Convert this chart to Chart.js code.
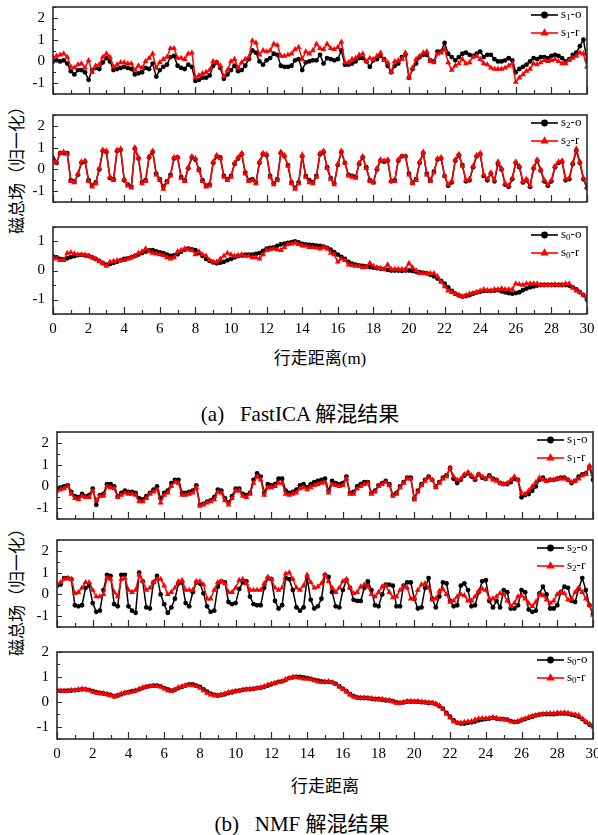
<!DOCTYPE html>
<html>
<head>
<meta charset="utf-8">
<script src="https://cdn.jsdelivr.net/npm/chart.js@4.4.1/dist/chart.umd.min.js"></script>
<style>
  body { margin: 0; background: #fff; width: 598px; height: 835px; position: relative; overflow: hidden; }
  .txt { position: absolute; white-space: pre; color: #000; transform: translate(-50%, -50%);
         font-family: "Liberation Serif", "Noto Sans CJK SC", serif; }
</style>
</head>
<body>

<div class="txt" style="left:15px;top:166px;font-size:17px;transform:translate(-50%,-50%) rotate(-90deg);font-family:'Noto Sans CJK SC'">磁总场（归一化）</div>
<div class="txt" style="left:320px;top:356px;font-size:17px;">行走距离(m)</div>
<div class="txt" style="left:300px;top:412px;font-size:21px;">(a)   FastICA 解混结果</div>

<div class="txt" style="left:15px;top:588px;font-size:17px;transform:translate(-50%,-50%) rotate(-90deg);font-family:'Noto Sans CJK SC'">磁总场（归一化）</div>
<div class="txt" style="left:325px;top:784px;font-size:17px;">行走距离</div>
<div class="txt" style="left:302px;top:822px;font-size:21px;">(b)   NMF 解混结果</div>

<script>
document.addEventListener("DOMContentLoaded", () => {

    // walking distance (m), one sample every 0.2 m
    const distance = [
        0,0.2,0.4,0.6,0.8,1,1.2,1.4,1.6,1.8,
        2,2.2,2.4,2.6,2.8,3,3.2,3.4,3.6,3.8,
        4,4.2,4.4,4.6,4.8,5,5.2,5.4,5.6,5.8,
        6,6.2,6.4,6.6,6.8,7,7.2,7.4,7.6,7.8,
        8,8.2,8.4,8.6,8.8,9,9.2,9.4,9.6,9.8,
        10,10.2,10.4,10.6,10.8,11,11.2,11.4,11.6,11.8,
        12,12.2,12.4,12.6,12.8,13,13.2,13.4,13.6,13.8,
        14,14.2,14.4,14.6,14.8,15,15.2,15.4,15.6,15.8,
        16,16.2,16.4,16.6,16.8,17,17.2,17.4,17.6,17.8,
        18,18.2,18.4,18.6,18.8,19,19.2,19.4,19.6,19.8,
        20,20.2,20.4,20.6,20.8,21,21.2,21.4,21.6,21.8,
        22,22.2,22.4,22.6,22.8,23,23.2,23.4,23.6,23.8,
        24,24.2,24.4,24.6,24.8,25,25.2,25.4,25.6,25.8,
        26,26.2,26.4,26.6,26.8,27,27.2,27.4,27.6,27.8,
        28,28.2,28.4,28.6,28.8,29,29.2,29.4,29.6,29.8,
        30
    ];

    // (a) FastICA
    const a1Black = [
        0.0,0.05,0.0,0.05,-0.1,-0.45,-0.6,-0.4,-0.4,-0.5,
        -0.85,-0.4,-0.3,-0.35,-0.05,0.15,0.0,-0.4,-0.35,-0.3,
        -0.25,-0.3,-0.35,-0.6,-0.55,-0.5,-0.3,-0.35,-0.1,-0.7,
        -0.4,-0.25,-0.15,0.2,0.25,-0.2,-0.3,-0.35,-0.15,-0.25,
        -0.9,-0.85,-0.75,-0.75,-0.65,-0.2,-0.05,-0.3,-0.8,-0.6,
        -0.4,-0.2,-0.45,-0.4,-0.2,0.1,0.5,0.4,0.0,-0.15,
        0.05,0.15,0.35,0.3,-0.2,-0.25,-0.25,-0.2,0.05,0.1,
        -0.4,-0.05,0.0,0.05,0.05,0.3,-0.1,0.15,0.1,0.05,
        0.1,0.5,-0.15,-0.15,-0.1,0.0,0.15,0.15,0.0,-0.25,
        0.05,0.1,0.25,0.1,-0.2,-0.5,-0.2,-0.1,0.2,0.3,
        -0.75,-0.35,-0.1,0.2,0.3,0.3,0.05,0.0,0.45,0.45,
        0.85,0.35,0.2,0.05,0.2,0.35,0.4,0.3,0.25,0.35,
        0.45,0.2,0.3,0.3,0.1,0.0,0.0,0.05,0.15,0.05,
        -0.5,-0.35,-0.25,-0.15,0.0,0.15,0.1,0.2,0.2,0.15,
        0.25,0.3,0.25,0.15,0.0,0.1,0.3,0.4,0.7,1.0,
        0.05
    ];
    const a1Red = [
        0.2,0.25,0.3,0.35,0.2,-0.25,-0.3,-0.15,-0.1,-0.3,
        0.05,-0.5,-0.2,-0.15,0.2,0.35,0.2,-0.25,-0.15,-0.05,
        -0.05,-0.1,-0.1,-0.4,-0.2,-0.3,0.0,0.15,0.35,-0.3,
        -0.05,0.1,0.2,0.6,0.6,0.15,0.15,0.1,0.35,0.4,
        -0.75,-0.65,-0.55,-0.5,-0.4,0.0,-0.05,-0.2,-0.7,-0.4,
        0.0,0.1,-0.3,-0.05,0.1,0.2,0.95,0.85,0.3,0.5,
        0.45,0.5,0.8,0.75,0.25,0.25,0.3,0.35,0.55,0.65,
        0.1,0.45,0.35,0.5,0.8,0.6,0.55,0.8,0.6,0.55,
        0.65,0.9,-0.05,-0.05,0.1,0.15,0.3,0.35,0.0,0.15,
        0.1,0.25,0.4,0.05,-0.05,-0.5,0.0,0.05,0.1,0.4,
        -0.75,-0.3,0.1,0.25,0.4,0.45,0.0,-0.05,0.35,0.4,
        0.55,-0.05,-0.4,-0.2,-0.1,0.1,-0.1,-0.05,0.2,0.25,
        0.1,-0.1,-0.15,-0.3,-0.35,-0.35,-0.35,-0.3,-0.2,-0.1,
        -0.95,-0.75,-0.6,-0.45,-0.35,-0.1,-0.15,-0.05,0.05,0.0,
        0.05,0.1,0.0,-0.1,-0.1,0.05,0.15,0.25,0.4,0.35,
        -0.25
    ];
    const a2Black = [
        0.5,0.3,0.75,0.75,0.75,-0.5,-0.55,-0.25,0.3,0.35,
        -0.5,-0.75,-0.6,0.0,0.85,0.8,-0.4,-0.45,0.85,0.9,
        -0.5,-0.7,-0.8,0.95,0.5,-0.6,-0.5,0.55,0.8,-0.2,
        -0.45,-0.8,-0.55,-0.25,0.5,0.55,-0.35,-0.5,0.05,0.55,
        0.45,0.0,-0.5,-0.75,-0.7,0.3,0.6,0.55,-0.3,-0.45,
        -0.3,0.25,0.5,0.7,-0.15,-0.5,-0.45,-0.6,0.3,0.7,
        0.65,-0.3,-0.65,-0.45,0.75,0.6,0.2,-0.6,-0.85,-0.6,
        0.6,-0.3,-0.5,-0.6,-0.3,0.7,0.8,0.1,-0.4,-0.65,
        0.2,0.8,0.3,-0.25,-0.3,-0.35,0.25,0.55,0.1,-0.5,
        -0.6,0.0,0.4,0.35,0.4,-0.55,-0.5,0.4,0.6,0.6,
        -0.2,-0.6,-0.45,0.3,0.75,-0.2,-0.5,-0.1,0.45,0.5,
        -0.3,-0.75,-0.6,0.4,0.65,0.2,-0.55,-0.5,0.1,0.6,
        0.7,-0.3,-0.5,-0.2,-0.55,0.25,0.0,-0.7,-0.8,-0.45,
        0.3,0.1,-0.6,-0.5,-0.8,0.05,0.4,-0.05,-0.55,-0.75,
        -0.55,0.1,0.3,0.35,-0.5,-0.45,0.25,0.85,0.3,-0.45,
        -0.85
    ];
    const a2Red = [
        0.45,0.3,0.75,0.8,0.7,-0.55,-0.6,-0.2,0.35,0.4,
        -0.55,-0.8,-0.65,0.05,0.9,0.85,-0.35,-0.5,0.9,0.95,
        -0.45,-0.75,-0.85,1.0,0.55,-0.65,-0.55,0.6,0.85,-0.25,
        -0.5,-0.9,-0.6,-0.3,0.55,0.55,-0.4,-0.55,0.1,0.6,
        0.5,-0.05,-0.55,-0.8,-0.75,0.35,0.65,0.5,-0.35,-0.5,
        -0.35,0.3,0.55,0.75,-0.2,-0.55,-0.5,-0.65,0.35,0.75,
        0.7,-0.35,-0.7,-0.5,0.8,0.65,0.15,-0.65,-0.9,-0.65,
        0.65,-0.35,-0.6,-0.65,-0.35,0.75,0.85,0.05,-0.45,-0.7,
        0.25,0.85,0.3,-0.3,-0.35,-0.4,0.3,0.6,0.05,-0.55,
        -0.6,0.05,0.45,0.4,0.45,-0.55,-0.55,0.45,0.6,0.6,
        -0.25,-0.65,-0.5,0.35,0.8,-0.25,-0.55,-0.15,0.5,0.55,
        -0.3,-0.7,-0.55,0.45,0.7,0.15,-0.5,-0.45,0.15,0.65,
        0.75,-0.25,-0.45,-0.15,-0.5,0.35,0.05,-0.65,-0.75,-0.4,
        0.35,0.15,-0.55,-0.45,-0.75,0.1,0.45,0.0,-0.5,-0.7,
        -0.5,0.15,0.35,0.4,-0.45,-0.4,0.3,0.95,0.35,-0.4,
        -0.8
    ];
    const a3Black = [
        0.48,0.45,0.4,0.38,0.42,0.46,0.5,0.53,0.54,0.52,
        0.5,0.45,0.4,0.33,0.25,0.2,0.22,0.26,0.3,0.35,
        0.4,0.42,0.45,0.5,0.55,0.6,0.65,0.69,0.7,0.66,
        0.62,0.6,0.55,0.5,0.52,0.56,0.65,0.72,0.75,0.73,
        0.7,0.6,0.5,0.4,0.33,0.28,0.25,0.27,0.3,0.35,
        0.4,0.45,0.5,0.52,0.55,0.55,0.55,0.57,0.6,0.68,
        0.75,0.78,0.8,0.85,0.9,0.93,0.95,0.98,1.0,0.97,
        0.92,0.9,0.88,0.87,0.86,0.85,0.82,0.78,0.72,0.63,
        0.55,0.47,0.4,0.3,0.24,0.2,0.18,0.16,0.14,0.12,
        0.1,0.08,0.06,0.05,0.02,0.0,0.0,0.0,-0.01,0.0,
        0.0,-0.02,-0.04,-0.06,-0.08,-0.1,-0.15,-0.2,-0.28,-0.36,
        -0.45,-0.58,-0.7,-0.8,-0.86,-0.9,-0.88,-0.85,-0.8,-0.76,
        -0.73,-0.7,-0.7,-0.7,-0.69,-0.68,-0.72,-0.75,-0.78,-0.8,
        -0.78,-0.75,-0.68,-0.62,-0.58,-0.55,-0.52,-0.5,-0.5,-0.5,
        -0.5,-0.5,-0.5,-0.5,-0.5,-0.52,-0.58,-0.65,-0.75,-0.85,
        -1.0
    ];
    const a3Red = [
        0.45,0.4,0.35,0.35,0.6,0.62,0.58,0.55,0.55,0.54,
        0.5,0.45,0.4,0.32,0.25,0.15,0.3,0.32,0.35,0.34,
        0.35,0.4,0.45,0.5,0.6,0.65,0.75,0.65,0.6,0.58,
        0.55,0.52,0.45,0.4,0.45,0.65,0.7,0.75,0.72,0.7,
        0.55,0.65,0.55,0.5,0.35,0.3,0.3,0.4,0.5,0.6,
        0.55,0.5,0.52,0.55,0.5,0.5,0.45,0.45,0.4,0.55,
        0.7,0.72,0.75,0.72,0.7,0.8,0.9,0.92,0.95,0.9,
        0.85,0.85,0.8,0.8,0.78,0.75,0.8,0.75,0.6,0.55,
        0.3,0.4,0.35,0.2,0.18,0.15,0.15,0.1,0.12,0.25,
        0.15,0.1,0.08,0.05,0.2,0.05,0.05,0.05,0.05,0.05,
        0.25,0.1,0.0,-0.1,-0.1,-0.1,-0.1,-0.1,-0.2,-0.4,
        -0.55,-0.7,-0.75,-0.8,-0.85,-0.9,-0.85,-0.8,-0.78,-0.75,
        -0.7,-0.65,-0.68,-0.7,-0.65,-0.65,-0.62,-0.65,-0.65,-0.65,
        -0.45,-0.48,-0.5,-0.45,-0.45,-0.45,-0.45,-0.5,-0.5,-0.5,
        -0.5,-0.48,-0.5,-0.5,-0.45,-0.45,-0.6,-0.7,-0.75,-0.85,
        -0.95
    ];

    // (b) NMF
    const b1Black = [
        -0.1,-0.05,0.0,0.05,-0.25,-0.45,-0.5,-0.35,-0.45,-0.4,
        -0.1,-0.85,-0.4,-0.35,0.1,0.1,0.0,-0.45,-0.3,-0.2,
        -0.25,-0.25,-0.3,-0.55,-0.6,-0.45,-0.3,-0.15,0.0,-0.55,
        -0.3,-0.2,0.15,0.3,0.3,-0.3,-0.3,-0.25,-0.2,0.05,
        -0.85,-0.8,-0.7,-0.65,-0.5,-0.15,-0.2,-0.55,-0.75,-0.45,
        -0.1,-0.1,-0.35,-0.4,-0.3,0.3,0.6,0.45,-0.3,0.1,
        0.05,0.1,0.35,0.35,-0.2,-0.3,-0.25,-0.15,0.05,0.1,
        -0.05,0.1,0.2,0.25,0.3,0.35,-0.2,0.25,0.15,0.1,
        0.15,0.45,-0.3,-0.25,0.0,0.1,0.2,0.2,-0.3,-0.2,
        0.05,0.15,0.25,0.1,-0.4,-0.3,0.0,0.2,0.4,0.4,
        -0.55,-0.2,0.1,0.3,0.45,0.3,0.0,0.2,0.4,0.5,
        0.85,0.35,0.15,0.3,0.5,0.6,0.45,0.3,0.55,0.4,
        0.35,0.5,0.35,0.3,0.15,0.1,0.1,0.2,0.35,0.3,
        -0.5,-0.4,-0.35,-0.2,0.0,0.3,0.4,0.25,0.3,0.3,
        0.35,0.4,0.4,0.3,0.15,0.25,0.45,0.55,0.6,0.9,
        0.3
    ];
    const b1Red = [
        -0.2,-0.15,-0.1,0.0,-0.35,-0.55,-0.6,-0.45,-0.5,-0.5,
        -0.2,-0.65,-0.45,-0.45,0.0,-0.05,-0.1,-0.5,-0.4,-0.3,
        -0.35,-0.35,-0.4,-0.7,-0.7,-0.55,-0.35,-0.25,-0.15,-0.75,
        -0.4,-0.3,0.0,0.2,0.15,-0.4,-0.4,-0.35,-0.3,-0.05,
        -0.9,-0.85,-0.75,-0.7,-0.6,-0.25,-0.3,-0.65,-0.85,-0.55,
        -0.2,-0.2,-0.45,-0.5,-0.35,0.15,0.45,0.3,-0.4,-0.05,
        -0.05,0.0,0.15,0.15,-0.35,-0.4,-0.35,-0.3,-0.1,-0.05,
        -0.15,-0.05,0.05,0.1,0.15,0.2,-0.3,0.1,0.05,0.0,
        0.05,0.35,-0.35,-0.35,-0.1,0.0,0.1,0.15,-0.35,-0.25,
        0.0,0.1,0.2,0.05,-0.45,-0.35,-0.05,0.15,0.35,0.35,
        -0.6,-0.25,0.05,0.25,0.4,0.3,-0.05,0.15,0.35,0.45,
        0.85,0.45,0.3,0.35,0.55,0.65,0.5,0.35,0.55,0.45,
        0.35,0.45,0.3,0.25,0.15,0.1,0.15,0.3,0.45,0.3,
        -0.3,-0.35,-0.2,0.0,0.2,0.4,0.3,0.25,0.3,0.3,
        0.35,0.35,0.35,0.3,0.2,0.25,0.35,0.5,0.55,0.95,
        0.55
    ];
    const b2Black = [
        0.4,0.45,0.75,0.75,0.7,-0.5,-0.55,-0.5,0.3,0.4,
        -0.4,-0.8,-0.75,0.2,0.9,0.85,-0.45,-0.55,0.9,0.9,
        -0.55,-0.75,-0.85,1.0,0.6,-0.6,-0.65,0.55,0.85,0.0,
        -0.45,-0.85,-0.6,-0.2,0.5,0.55,-0.4,-0.55,0.1,0.55,
        0.5,0.05,-0.55,-0.8,-0.75,0.35,0.6,0.55,-0.35,-0.45,
        -0.4,0.25,0.55,0.6,-0.1,-0.45,-0.5,-0.5,0.3,0.75,
        0.7,-0.3,-0.65,-0.5,0.75,0.7,0.2,-0.6,-0.75,-0.6,
        0.75,-0.25,-0.65,-0.55,-0.2,0.9,0.8,0.1,-0.55,-0.6,
        0.2,0.65,0.3,-0.25,-0.3,-0.3,0.3,0.6,0.2,-0.5,
        -0.55,0.0,0.45,0.45,0.4,-0.55,-0.55,0.4,0.55,0.55,
        -0.2,-0.65,-0.6,0.3,0.75,-0.2,-0.6,-0.1,0.55,0.5,
        -0.3,-0.55,-0.5,0.4,0.5,0.2,-0.55,-0.5,0.1,0.6,
        0.65,-0.3,-0.6,-0.3,-0.6,0.2,0.1,-0.65,-0.65,-0.5,
        0.2,0.1,-0.7,-0.8,-0.75,0.05,0.35,0.0,-0.65,-0.65,
        -0.5,0.1,0.35,0.3,-0.3,-0.35,0.25,0.75,0.2,-0.5,
        -0.9
    ];
    const b2Red = [
        0.5,0.55,0.7,0.75,0.7,0.05,0.1,0.3,0.55,0.55,
        0.2,-0.1,-0.1,0.0,0.75,0.7,0.1,-0.1,0.7,0.75,
        0.2,0.1,0.2,0.9,0.6,0.2,0.3,0.55,0.7,0.7,
        0.4,0.0,0.1,0.3,0.6,0.65,0.2,0.2,0.2,0.6,
        0.6,0.45,-0.2,-0.2,0.2,0.55,0.6,0.5,0.1,0.1,
        0.3,0.65,0.7,0.5,0.2,0.2,0.2,0.2,0.5,0.8,
        0.7,0.3,0.2,0.3,0.95,1.0,0.7,0.3,0.2,0.4,
        0.9,0.55,0.3,0.35,0.5,0.9,0.6,0.3,0.1,0.3,
        0.6,0.7,0.3,0.05,0.1,0.35,0.45,0.35,0.0,-0.1,
        0.1,0.35,0.4,0.1,-0.15,-0.1,0.2,0.35,0.3,-0.2,
        -0.2,0.2,0.45,0.5,0.3,-0.25,-0.2,0.15,0.25,0.0,
        -0.35,-0.3,-0.1,0.0,-0.05,-0.3,-0.3,-0.1,0.15,0.25,
        0.2,-0.2,-0.2,-0.1,0.05,0.0,-0.3,-0.55,-0.4,-0.1,
        -0.05,-0.2,-0.4,-0.55,-0.35,0.0,-0.05,-0.25,-0.4,-0.3,
        0.0,0.1,0.05,-0.25,-0.2,0.1,0.3,0.1,-0.2,-0.5,
        -0.95
    ];
    const b3Black = [
        0.45,0.44,0.44,0.45,0.45,0.46,0.48,0.5,0.5,0.47,
        0.42,0.38,0.35,0.33,0.3,0.27,0.22,0.25,0.3,0.35,
        0.38,0.42,0.45,0.5,0.55,0.6,0.63,0.65,0.65,0.62,
        0.55,0.5,0.45,0.48,0.55,0.6,0.65,0.7,0.7,0.65,
        0.6,0.5,0.4,0.32,0.27,0.25,0.27,0.3,0.35,0.38,
        0.42,0.45,0.48,0.5,0.5,0.52,0.55,0.56,0.6,0.65,
        0.7,0.75,0.8,0.82,0.88,0.95,0.98,1.0,1.0,0.98,
        0.95,0.92,0.88,0.85,0.82,0.8,0.8,0.78,0.72,0.62,
        0.52,0.42,0.3,0.22,0.17,0.15,0.15,0.14,0.12,0.1,
        0.1,0.08,0.05,0.05,0.02,-0.03,-0.05,-0.03,0.0,0.0,
        0.0,0.0,-0.02,-0.03,-0.05,-0.05,-0.1,-0.18,-0.28,-0.45,
        -0.6,-0.75,-0.85,-0.88,-0.88,-0.85,-0.83,-0.8,-0.75,-0.72,
        -0.7,-0.68,-0.65,-0.68,-0.7,-0.7,-0.72,-0.78,-0.82,-0.8,
        -0.75,-0.7,-0.65,-0.6,-0.55,-0.52,-0.5,-0.5,-0.5,-0.5,
        -0.48,-0.47,-0.47,-0.48,-0.52,-0.55,-0.6,-0.7,-0.82,-0.92,
        -1.0
    ];
    const b3Red = [
        0.45,0.45,0.43,0.44,0.47,0.46,0.5,0.52,0.5,0.46,
        0.4,0.36,0.33,0.33,0.3,0.25,0.2,0.25,0.32,0.36,
        0.37,0.4,0.45,0.52,0.58,0.6,0.62,0.64,0.63,0.6,
        0.52,0.45,0.42,0.5,0.58,0.62,0.66,0.68,0.66,0.62,
        0.55,0.45,0.35,0.28,0.25,0.25,0.28,0.32,0.38,0.4,
        0.42,0.44,0.48,0.5,0.52,0.52,0.55,0.58,0.62,0.68,
        0.72,0.75,0.78,0.82,0.9,0.95,1.0,0.98,0.95,0.92,
        0.92,0.9,0.85,0.8,0.78,0.8,0.82,0.78,0.7,0.6,
        0.5,0.4,0.28,0.2,0.16,0.15,0.16,0.15,0.13,0.1,
        0.1,0.1,0.07,0.05,0.0,-0.05,-0.06,-0.02,0.02,0.02,
        0.0,0.02,0.0,-0.02,-0.03,-0.05,-0.08,-0.15,-0.3,-0.5,
        -0.65,-0.8,-0.85,-0.85,-0.82,-0.8,-0.78,-0.72,-0.68,-0.67,
        -0.68,-0.66,-0.63,-0.66,-0.7,-0.72,-0.74,-0.8,-0.82,-0.78,
        -0.72,-0.68,-0.62,-0.58,-0.55,-0.52,-0.5,-0.48,-0.47,-0.47,
        -0.45,-0.45,-0.44,-0.46,-0.5,-0.52,-0.55,-0.68,-0.8,-0.9,
        -1.0
    ];

    const panels = [
        { top: 7,   bottom: 94,  left: 53, right: 587, yMin: -1.5, yMax: 2.5, xLabels: false, sub: "1", black: a1Black, red: a1Red },
        { top: 115, bottom: 202, left: 53, right: 587, yMin: -1.5, yMax: 2.5, xLabels: false, sub: "2", black: a2Black, red: a2Red },
        { top: 227, bottom: 314, left: 53, right: 587, yMin: -1.5, yMax: 1.5, xLabels: true,  sub: "0", black: a3Black, red: a3Red },
        { top: 432, bottom: 519, left: 57, right: 593, yMin: -1.5, yMax: 2.5, xLabels: false, sub: "1", black: b1Black, red: b1Red },
        { top: 540, bottom: 627, left: 57, right: 593, yMin: -1.5, yMax: 2.5, xLabels: false, sub: "2", black: b2Black, red: b2Red },
        { top: 652, bottom: 739, left: 57, right: 593, yMin: -1.5, yMax: 2.0, xLabels: true,  sub: "0", black: b3Black, red: b3Red }
    ];

    const tickFont = { family: "'Liberation Serif', serif", size: 15 };

    // frame, inward tick marks and the legend inside the plot
    const framePlugin = {
        id: "frame",
        afterDraw(chart) {
            const { ctx, chartArea: a, scales } = chart;
            ctx.save();
            ctx.strokeStyle = "#2a2a2a";
            ctx.lineWidth = 1.2;
            ctx.beginPath();
            scales.y.ticks.forEach(t => {
                const y = Math.round(scales.y.getPixelForValue(t.value)) + 0.5;
                const len = Number.isInteger(t.value) ? 5 : 3;
                ctx.moveTo(a.left, y);
                ctx.lineTo(a.left + len, y);
            });
            scales.x.ticks.forEach(t => {
                const x = Math.round(scales.x.getPixelForValue(t.value)) + 0.5;
                const len = t.value % 2 === 0 ? 7 : 4;
                ctx.moveTo(x, a.bottom);
                ctx.lineTo(x, a.bottom - len);
            });
            ctx.stroke();
            ctx.lineWidth = 1.6;
            ctx.strokeRect(a.left, a.top, a.right - a.left, a.bottom - a.top);

            // legend
            const sub = chart.options.plugins.frame.sub;
            chart.data.datasets.forEach((ds, i) => {
                const y = a.top + 8 + i * 18;
                const x0 = a.right - 56;
                ctx.strokeStyle = ds.borderColor;
                ctx.fillStyle = ds.borderColor;
                ctx.lineWidth = 1.6;
                ctx.beginPath();
                ctx.moveTo(x0, y);
                ctx.lineTo(x0 + 27, y);
                ctx.stroke();
                Chart.helpers.drawPoint(ctx, {
                    pointStyle: ds.pointStyle,
                    radius: ds.pointStyle === "triangle" ? 4.8 : 3.4,
                    rotation: 0,
                    borderWidth: 0
                }, x0 + 13.5, y);

                ctx.fillStyle = "#000";
                ctx.textBaseline = "middle";
                let x = x0 + 30;
                ctx.font = "13px 'Liberation Serif'";
                ctx.fillText("s", x, y);
                x += ctx.measureText("s").width;
                ctx.font = "9px 'Liberation Serif'";
                ctx.fillText(sub, x, y + 3);
                x += ctx.measureText(sub).width;
                ctx.font = "13px 'Liberation Serif'";
                ctx.fillText(i === 0 ? "-o" : "-r", x, y);
            });
            ctx.restore();
        }
    };

    panels.forEach(p => {
        const padTop = 8;
        const xh = p.xLabels ? 26 : 2;
        const h = padTop + (p.bottom - p.top) + xh + 2;

        const canvas = document.createElement("canvas");
        canvas.width = 598;
        canvas.height = h;
        canvas.style.cssText = `position:absolute;left:0;top:${p.top - padTop}px;width:598px;height:${h}px`;
        document.body.appendChild(canvas);

        new Chart(canvas.getContext("2d"), {
            type: "line",
            data: {
                datasets: [
                    {
                        label: "s" + p.sub + "-o",
                        data: distance.map((d, i) => ({ x: d, y: p.black[i] })),
                        borderColor: "#000000",
                        backgroundColor: "#000000",
                        pointBackgroundColor: "#000000",
                        pointStyle: "circle",
                        pointRadius: 2.4,
                        pointBorderWidth: 0,
                        borderWidth: 1.5,
                        tension: 0,
                        order: 2
                    },
                    {
                        label: "s" + p.sub + "-r",
                        data: distance.map((d, i) => ({ x: d, y: p.red[i] })),
                        borderColor: "#ff0000",
                        backgroundColor: "#ff0000",
                        pointBackgroundColor: "#ff0000",
                        pointStyle: "triangle",
                        pointRadius: 3.4,
                        pointBorderWidth: 0,
                        borderWidth: 1.5,
                        tension: 0,
                        order: 1
                    }
                ]
            },
            options: {
                responsive: false,
                animation: false,
                events: [],
                layout: { padding: { top: padTop, bottom: 2, left: 0, right: 598 - p.right } },
                scales: {
                    x: {
                        type: "linear",
                        min: 0,
                        max: 30,
                        grid: { display: false, drawTicks: false },
                        border: { display: false },
                        ticks: {
                            display: p.xLabels,
                            stepSize: 1,
                            autoSkip: false,
                            maxRotation: 0,
                            minRotation: 0,
                            padding: 6,
                            color: "#000",
                            font: tickFont,
                            callback: v => (v % 2 === 0 ? v : "")
                        },
                        afterFit: s => { s.height = xh; s.paddingLeft = 0; s.paddingRight = 0; }
                    },
                    y: {
                        min: p.yMin,
                        max: p.yMax,
                        grid: { display: false, drawTicks: false },
                        border: { display: false },
                        ticks: {
                            stepSize: 0.5,
                            autoSkip: false,
                            padding: 8,
                            color: "#000",
                            font: tickFont,
                            callback: v => (Number.isInteger(v) ? v : "")
                        },
                        afterFit: s => { s.width = p.left; s.paddingTop = 0; s.paddingBottom = 0; }
                    }
                },
                plugins: {
                    legend: { display: false },
                    tooltip: { enabled: false },
                    frame: { sub: p.sub }
                }
            },
            plugins: [framePlugin]
        });
    });

});
</script>
</body>
</html>
